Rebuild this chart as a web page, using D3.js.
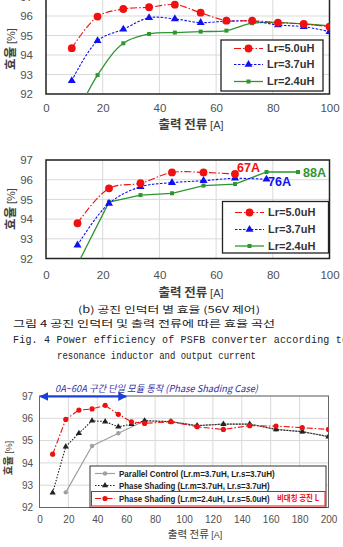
<!DOCTYPE html>
<html>
<head>
<meta charset="utf-8">
<script src="https://cdn.jsdelivr.net/npm/d3@7"></script>
<style>
  body { margin: 0; background: #fff; }
  svg { display: block; }
</style>
</head>
<body>
<svg id="fig" width="343" height="547"></svg>
<script>
// chart (a): efficiency vs output current, 0-100A
const xA = [9.09, 18.18, 27.27, 36.36, 45.45, 54.55, 63.64, 72.73, 81.82, 90.91, 100];
const a50 = [94.35, 95.97, 96.36, 96.45, 96.58, 96.17, 95.76, 95.76, 95.66, 95.59, 95.45];
const a37 = [92.68, 94.73, 95.32, 95.91, 95.85, 95.66, 95.74, 95.74, 95.54, 95.45, 95.2];
const a24 = [90.4, 92.97, 94.6, 95.08, 95.15, 95.2, 95.25, 95.63, 95.66, 95.59, 95.49];

// chart (b): 56V control
const xB = [11.11, 22.22, 33.33, 44.44, 55.56, 66.67, 77.78, 88.89];
const b50 = [93.79, 95.56, 95.82, 96.37, 96.37, 96.29];
const b37 = [92.68, 94.8, 95.64, 95.85, 95.95, 96.07, 96.02];
const b24 = [91.7, 94.86, 95.22, 95.31, 95.7, 95.78, 96.39, 96.39];
const bEnd = ["67A", "76A", "88A"];

// chart (c): 0-200A phase shading
const xC = [9.09, 18.18, 27.27, 36.36, 45.45, 54.55, 63.64, 72.73, 90.91, 109.09, 127.27, 145.45, 163.64, 181.82, 200];
const cRed = [94.39, 95.95, 96.37, 96.42, 96.58, 96.18, 95.84, 95.77, 95.85, 95.62, 95.5, 95.67, 95.65, 95.58, 95.5];
const cBlk = [92.66, 94.73, 95.33, 95.89, 95.85, 95.62, 95.73, 95.89, 95.85, 95.67, 95.74, 95.74, 95.5, 95.4, 95.18];
const xPar = [18.18, 36.36, 54.55, 72.73, 90.91, 109.09, 127.27, 145.45, 163.64, 181.82, 200];
const cPar = [92.68, 94.76, 95.33, 95.89, 95.85, 95.67, 95.74, 95.74, 95.5, 95.4, 95.18];

const lrNames = ["Lr=5.0uH", "Lr=3.7uH", "Lr=2.4uH"];
const parNames = ["Parallel Control (Lr.m=3.7uH, Lr.s=3.7uH)",
                  "Phase Shading (Lr.m=3.7uH, Lr.s=3.7uH)",
                  "Phase Shading (Lr.m=2.4uH, Lr.s=5.0uH)"];
const parWidths = [156, 151, 151];
const yTicks = [92, 93, 94, 95, 96, 97];

const RED = "#f01010", BLUE = "#1010f0", GREEN = "#2e962e";
const TXT = "#505050";
const SANS = "'Liberation Sans', Arial, sans-serif";
const KR = "'Noto Sans CJK KR', sans-serif";

const svg = d3.select("#fig");

let clipId = 0;
function panel(o) {
  const x = d3.scaleLinear().domain(o.xd).range(o.xr);
  const y = d3.scaleLinear().domain([92, 97]).range(o.yr);
  const g = svg.append("g");
  const id = "clip" + (clipId++);
  g.append("clipPath").attr("id", id).append("rect")
    .attr("x", o.xr[0]).attr("y", o.yr[1])
    .attr("width", o.xr[1] - o.xr[0]).attr("height", o.yr[0] - o.yr[1]);

  // grid
  g.selectAll(".hg").data(yTicks.slice(1)).join("line")
    .attr("x1", o.xr[0]).attr("x2", o.xr[1])
    .attr("y1", d => y(d)).attr("y2", d => y(d))
    .attr("stroke", "#d9d9d9").attr("stroke-width", 1);
  g.selectAll(".vg").data(o.xt.slice(1)).join("line")
    .attr("y1", o.yr[0]).attr("y2", o.yr[1])
    .attr("x1", d => x(d)).attr("x2", d => x(d))
    .attr("stroke", "#d9d9d9").attr("stroke-width", 1);

  // frame
  g.append("rect")
    .attr("x", o.xr[0]).attr("y", o.yr[1])
    .attr("width", o.xr[1] - o.xr[0]).attr("height", o.yr[0] - o.yr[1])
    .attr("fill", "none").attr("stroke", o.frame).attr("stroke-width", o.frameW);

  // axes
  const ax = g.append("g").attr("transform", `translate(0,${o.yr[0]})`)
    .call(d3.axisBottom(x).tickValues(o.xt).tickFormat(d3.format("d")).tickSize(0).tickPadding(o.xPad));
  const ay = g.append("g").attr("transform", `translate(${o.yLab},0)`)
    .call(d3.axisLeft(y).tickValues(yTicks).tickFormat(d3.format("d")).tickSize(0).tickPadding(0));
  [ax, ay].forEach(a => {
    a.select(".domain").remove();
    a.selectAll("text").attr("fill", TXT).attr("font-family", SANS).attr("font-size", o.tickFs);
  });

  // titles
  const xt = g.append("text").attr("x", o.xTitle[0]).attr("y", o.xTitle[1])
    .attr("text-anchor", "middle").attr("font-family", KR).attr("font-size", o.titleFs).attr("fill", "#404040");
  xt.append("tspan").attr("font-weight", o.titleW).text("출력 전류 ");
  xt.append("tspan").attr("font-family", SANS).attr("font-size", o.titleFs - 1.5).text("[A]");
  const yt = g.append("text").attr("transform", `translate(${o.yTitle[0]},${o.yTitle[1]}) rotate(-90)`)
    .attr("text-anchor", "middle").attr("font-family", KR).attr("font-size", o.titleFs).attr("fill", "#404040");
  yt.append("tspan").attr("font-weight", "bold").text("효율 ");
  yt.append("tspan").attr("font-family", SANS).attr("font-size", o.titleFs - 1.5).text("[%]");

  const plot = g.append("g").attr("clip-path", `url(#${id})`);
  return { x, y, g, plot };
}

function marker(sel, kind, color, s) {
  if (kind === "circle") {
    sel.append("circle").attr("r", s).attr("fill", color);
  } else if (kind === "tri") {
    sel.append("path").attr("d", d3.symbol(d3.symbolTriangle, s * s * 1.3)()).attr("fill", color);
  } else {
    sel.append("rect").attr("x", -s).attr("y", -s).attr("width", 2 * s).attr("height", 2 * s).attr("fill", color);
  }
}

function series(p, xs, ys, st) {
  const pts = ys.map((v, i) => [xs[i], v]);
  const line = d3.line().x(d => p.x(d[0])).y(d => p.y(d[1])).curve(st.curve || d3.curveLinear);
  p.plot.append("path").datum(pts).attr("d", line)
    .attr("fill", "none").attr("stroke", st.color).attr("stroke-width", st.w)
    .attr("stroke-dasharray", st.dash);
  p.plot.selectAll(null).data(pts).join("g")
    .attr("transform", d => `translate(${p.x(d[0])},${p.y(d[1])})`)
    .each(function() { marker(d3.select(this), st.mk, st.mc || st.color, st.ms); });
}

function legendRow(g, x, y, st, label, fs, len, fitW) {
  g.append("line").attr("x1", x).attr("x2", x + len).attr("y1", y).attr("y2", y)
    .attr("stroke", st.color).attr("stroke-width", st.w).attr("stroke-dasharray", st.dash);
  marker(g.append("g").attr("transform", `translate(${x + len / 2},${y})`), st.mk, st.mc || st.color, st.ms);
  const tg = g.append("g").attr("transform", `translate(${x + len + 4},${y})`);
  const t = tg.append("text").attr("dy", "0.35em")
    .attr("font-family", SANS).attr("font-weight", "bold").attr("font-size", fs)
    .attr("fill", "#333").text(label);
  if (fitW) {
    // squeeze to the condensed width of the original
    const w = t.node().getComputedTextLength();
    tg.attr("transform", `translate(${x + len + 4},${y}) scale(${fitW / w},1)`);
  }
  return t;
}

const smooth = d3.curveCatmullRom.alpha(0.5);
const stA = [
  { color: RED, w: 1.1, dash: "7,2,1.5,2", mk: "circle", ms: 3.9, curve: smooth },
  { color: BLUE, w: 1.1, dash: "2.5,1.5", mk: "tri", ms: 4.6, curve: smooth },
  { color: GREEN, w: 1.3, dash: null, mk: "sq", ms: 2, curve: smooth }
];

// ---- chart (a)
const pA = panel({
  xd: [0, 100], xr: [46, 329.5], yr: [94, -3.5], xt: [0, 20, 40, 60, 80, 100],
  frame: "#222", frameW: 1.5, yLab: 33, xPad: 10, tickFs: 11.5, titleFs: 12.5, titleW: "bold",
  xTitle: [191, 129], yTitle: [15, 49]
});
series(pA, xA, a24, stA[2]);
series(pA, xA, a37, stA[1]);
series(pA, xA, a50, stA[0]);
const lgA = pA.g.append("g");
lgA.append("rect").attr("x", 221).attr("y", 40).attr("width", 102).attr("height", 51)
  .attr("fill", "#fff").attr("stroke", "#222").attr("stroke-width", 1.3);
[48.5, 64.5, 81.5].forEach((yy, i) => legendRow(lgA, 234, yy, stA[i], lrNames[i], 11, 29));

// ---- chart (b)
const pB = panel({
  xd: [0, 100], xr: [46, 329.5], yr: [258.5, 160], xt: [0, 20, 40, 60, 80, 100],
  frame: "#222", frameW: 1.5, yLab: 33, xPad: 12, tickFs: 11.5, titleFs: 12.5, titleW: "bold",
  xTitle: [191, 297], yTitle: [15, 209]
});
const stB = [stA[0], stA[1], { color: GREEN, w: 1.3, dash: null, mk: "sq", ms: 2, curve: d3.curveLinear }];
series(pB, xB, b24, stB[2]);
series(pB, xB, b37, stB[1]);
series(pB, xB, b50, stB[0]);
const lgB = pB.g.append("g");
lgB.append("rect").attr("x", 222.5).attr("y", 201.5).attr("width", 106).attr("height", 51.5)
  .attr("fill", "#fff").attr("stroke", "#222").attr("stroke-width", 1.3);
[212.5, 229.5, 246].forEach((yy, i) => legendRow(lgB, 235, yy, stB[i], lrNames[i], 11, 29));
// end labels
[[b50, RED, 237, 168], [b37, BLUE, 268, 182], [b24, GREEN, 303, 173]].forEach((d, i) => {
  pB.g.append("text").attr("x", d[2]).attr("y", d[3]).attr("dy", "0.35em")
    .attr("font-family", SANS).attr("font-weight", "bold").attr("font-size", 12.5)
    .attr("fill", d[1]).text(bEnd[i]);
});

// ---- captions
const cap = svg.append("g").attr("fill", "#222");
cap.append("text").attr("x", 78).attr("y", 312.5)
  .attr("font-family", KR).attr("font-size", 9.5).attr("textLength", 182).attr("lengthAdjust", "spacingAndGlyphs")
  .text("(b) 공진 인덕터 별 효율 (56V 제어)");
cap.append("text").attr("x", 13).attr("y", 326.5)
  .attr("font-family", KR).attr("font-size", 9.5).attr("textLength", 262).attr("lengthAdjust", "spacingAndGlyphs")
  .text("그림 4  공진 인덕터 및 출력 전류에 따른 효율 곡선");
cap.append("text").attr("x", 13).attr("y", 342.5)
  .attr("font-family", "'Liberation Mono', monospace").attr("font-size", 10).attr("textLength", 335).attr("lengthAdjust", "spacing")
  .text("Fig. 4 Power  efficiency  of  PSFB  converter  according  to");
cap.append("text").attr("x", 57).attr("y", 358.5)
  .attr("font-family", "'Liberation Mono', monospace").attr("font-size", 10).attr("textLength", 199).attr("lengthAdjust", "spacingAndGlyphs")
  .text("resonance inductor and output current");

// ---- chart (c)
const pC = panel({
  xd: [0, 200], xr: [39.5, 328.5], yr: [507.5, 396], xt: d3.range(0, 201, 20),
  frame: "#666", frameW: 1, yLab: 33, xPad: 8, tickFs: 10, titleFs: 10.5, titleW: "normal",
  xTitle: [195, 538], yTitle: [12, 458]
});
const stC = [
  { color: "#a0a0a0", w: 1.2, dash: null, mk: "circle", ms: 2.2 },
  { color: "#222", w: 1.1, dash: "1.5,1.5", mk: "tri", ms: 3.6 },
  { color: RED, w: 1.1, dash: "6,2,1.5,2", mk: "circle", ms: 2.6 }
];
series(pC, xPar, cPar, stC[0]);
series(pC, xC, cBlk, stC[1]);
series(pC, xC, cRed, stC[2]);

// annotation arrow
const arrY = 396.5;
const defs = svg.append("defs");
defs.append("marker").attr("id", "ah").attr("viewBox", "0 0 10 10").attr("refX", 9).attr("refY", 5)
  .attr("markerWidth", 4).attr("markerHeight", 4).attr("orient", "auto-start-reverse")
  .append("path").attr("d", "M0,0L10,5L0,10Z").attr("fill", "#1a3fd6");
pC.g.append("line").attr("x1", pC.x(0) + 1).attr("x2", pC.x(60)).attr("y1", arrY).attr("y2", arrY)
  .attr("stroke", "#1a3fd6").attr("stroke-width", 2.2)
  .attr("marker-start", "url(#ah)").attr("marker-end", "url(#ah)");
pC.g.append("text").attr("x", 55).attr("y", 391.5).attr("font-family", KR).attr("font-style", "italic")
  .attr("font-size", 9.5).attr("fill", "#2f2fa8").attr("textLength", 203).attr("lengthAdjust", "spacingAndGlyphs")
  .text("0A~60A 구간 단일 모듈 동작 (Phase Shading Case)");

const lgC = pC.g.append("g");
lgC.append("rect").attr("x", 90).attr("y", 466).attr("width", 236).attr("height", 41.5)
  .attr("fill", "#fff").attr("stroke", "#333").attr("stroke-width", 1);
lgC.append("rect").attr("x", 91.5).attr("y", 491.5).attr("width", 233.5).attr("height", 14.5)
  .attr("fill", "none").attr("stroke", RED).attr("stroke-width", 1);
[473.5, 485.5, 498.5].forEach((yy, i) => {
  legendRow(lgC, 95, yy, stC[i], parNames[i], 9, 20, parWidths[i]).attr("fill", "#222");
});
const redG = lgC.append("g");
const redT = redG.append("text").attr("dy", "0.35em")
  .attr("font-family", KR).attr("font-weight", "bold").attr("font-size", 8.5).attr("fill", RED)
  .text("비대칭 공진 L");
redG.attr("transform", `translate(277,498.5) scale(${42 / redT.node().getComputedTextLength()},1)`);
</script>
</body>
</html>
